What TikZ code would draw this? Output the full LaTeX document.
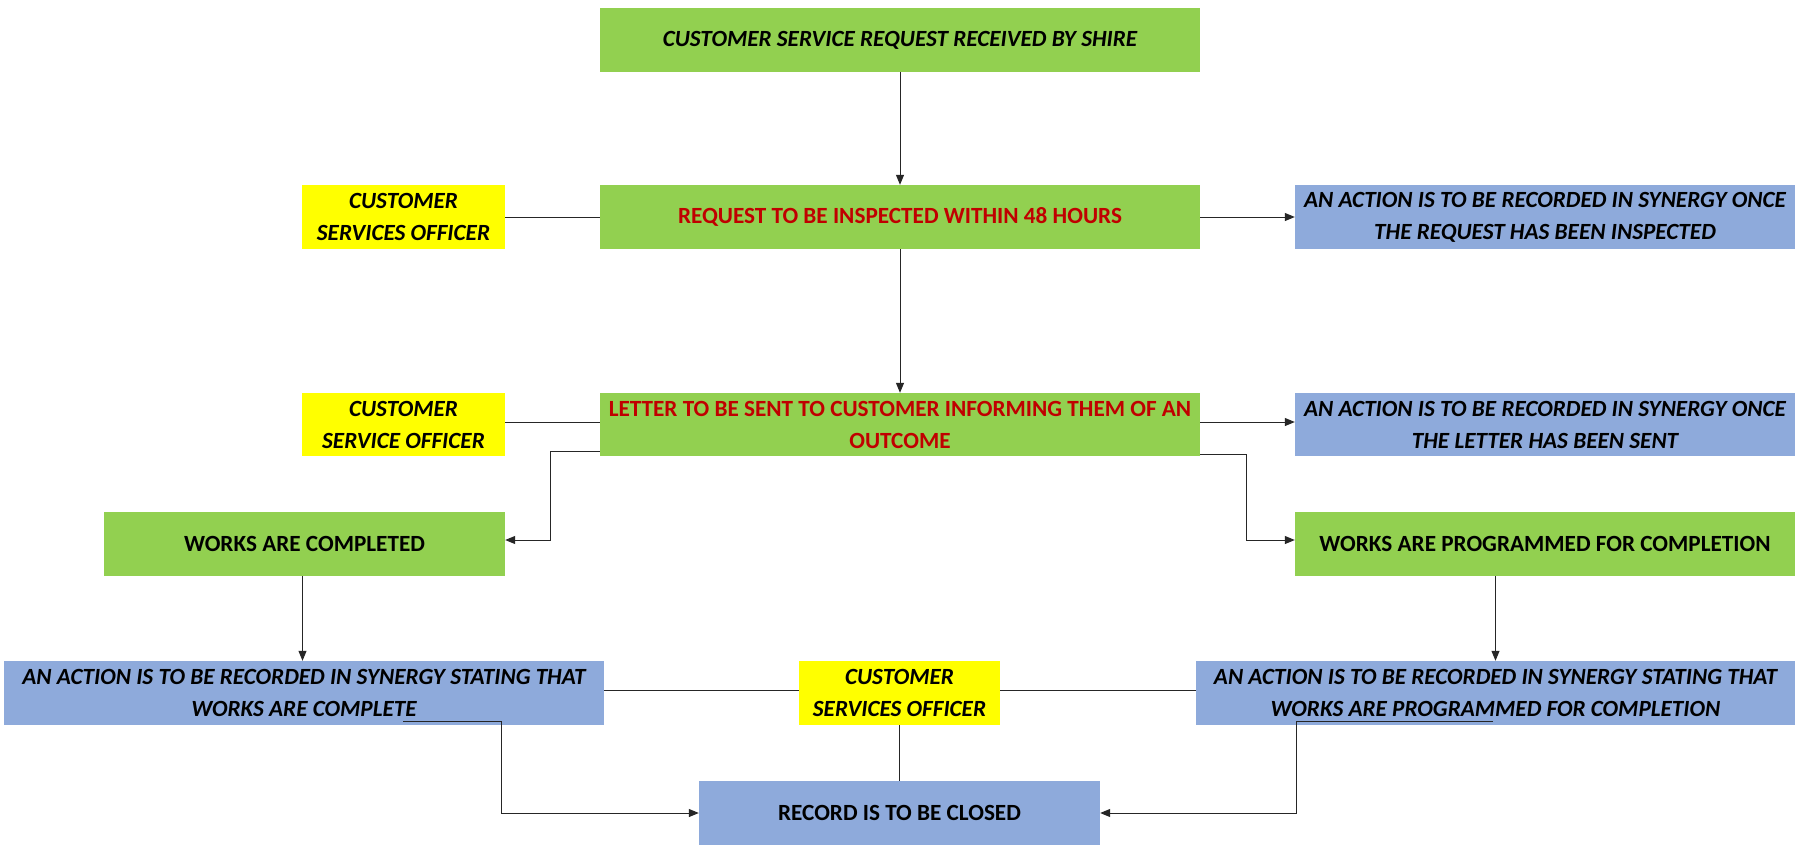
\documentclass[tikz,border=0pt]{standalone}
\usepackage{fontspec}
\setmainfont{Carlito}
\usetikzlibrary{arrows.meta}
\definecolor{gfill}{HTML}{92D050}
\definecolor{yfill}{HTML}{FFFF00}
\definecolor{bfill}{HTML}{8EAADB}
\definecolor{rtext}{HTML}{C00000}
\begin{document}
\begin{tikzpicture}[x=1pt,y=-1pt,
  base/.style={rectangle,inner sep=0pt,align=center,minimum height=64pt,
    font=\fontsize{23.2}{32}\selectfont\bfseries},
  gbox/.style={base,fill=gfill},
  ybox/.style={base,fill=yfill},
  bbox/.style={base,fill=bfill},
  it/.style={font=\fontsize{23.2}{32}\selectfont\bfseries\itshape},
  red/.style={text=rtext},
  conn/.style={draw=black!85,line width=1pt},
  arr/.style={conn,-{Triangle[length=10pt,width=8pt]}}
]
\useasboundingbox (0,0) rectangle (1797,846);
\fill[white] (0,0) rectangle (1797,846);

\node[gbox,it,minimum width=600pt] (top) at (900,40) {CUSTOMER SERVICE REQUEST RECEIVED BY SHIRE};
\node[gbox,red,minimum width=600pt] (req) at (900,217) {REQUEST TO BE INSPECTED WITHIN 48 HOURS};
\node[ybox,it,minimum width=203pt] (y1) at (403.5,217) {CUSTOMER\\SERVICES OFFICER};
\node[bbox,it,minimum width=500pt] (b1) at (1545,217) {AN ACTION IS TO BE RECORDED IN SYNERGY ONCE\\THE REQUEST HAS BEEN INSPECTED};

\node[gbox,red,minimum width=600pt,minimum height=63pt] (let) at (900,424.5) {LETTER TO BE SENT TO CUSTOMER INFORMING THEM OF AN\\OUTCOME};
\node[ybox,it,minimum width=203pt,minimum height=63pt] (y2) at (403.5,424.5) {CUSTOMER\\SERVICE OFFICER};
\node[bbox,it,minimum width=500pt,minimum height=63pt] (b2) at (1545,424.5) {AN ACTION IS TO BE RECORDED IN SYNERGY ONCE\\THE LETTER HAS BEEN SENT};

\node[gbox,minimum width=401pt] (wc) at (304.5,544) {WORKS ARE COMPLETED};
\node[gbox,minimum width=500pt] (wp) at (1545,544) {WORKS ARE PROGRAMMED FOR COMPLETION};

\node[bbox,it,minimum width=600pt] (b3) at (304,693) {AN ACTION IS TO BE RECORDED IN SYNERGY STATING THAT\\WORKS ARE COMPLETE};
\node[ybox,it,minimum width=201pt] (y3) at (899.5,693) {CUSTOMER\\SERVICES OFFICER};
\node[bbox,it,minimum width=599pt] (b4) at (1495.5,693) {AN ACTION IS TO BE RECORDED IN SYNERGY STATING THAT\\WORKS ARE PROGRAMMED FOR COMPLETION};

\node[bbox,minimum width=401pt] (rec) at (899.5,813) {RECORD IS TO BE CLOSED};

% connectors
\draw[arr] (top.south) -- (req.north);
\draw[arr] (req.south) -- (let.north);
\draw[conn] (y1.east) -- (req.west);
\draw[arr] (req.east) -- (b1.west);
\draw[conn] (y2.east |- 0,422) -- (let.west |- 0,422);
\draw[arr] (let.east |- 0,422) -- (b2.west |- 0,422);
\draw[arr] (let.west |- 0,451) -| (550,540) -- (wc.east |- 0,540);
\draw[arr] (let.east |- 0,454) -| (1246,540) -- (wp.west |- 0,540);
\draw[arr] (wc.south -| 302.5,0) -- (b3.north -| 302.5,0);
\draw[arr] (b4.north |- wp.south) -- (b4.north);
\draw[conn] (b3.east |- 0,690) -- (y3.west |- 0,690);
\draw[conn] (y3.east |- 0,690) -- (b4.west |- 0,690);
\draw[conn] (y3.south) -- (rec.north);
\coordinate (s3) at (403,721);
\coordinate (s4) at (1493,721);
\draw[arr] (s3) -- (501,721) -- (501,813) -- (rec.west);
\draw[arr] (s4) -- (1296,721) -- (1296,813) -- (rec.east);
\end{tikzpicture}
\end{document}
